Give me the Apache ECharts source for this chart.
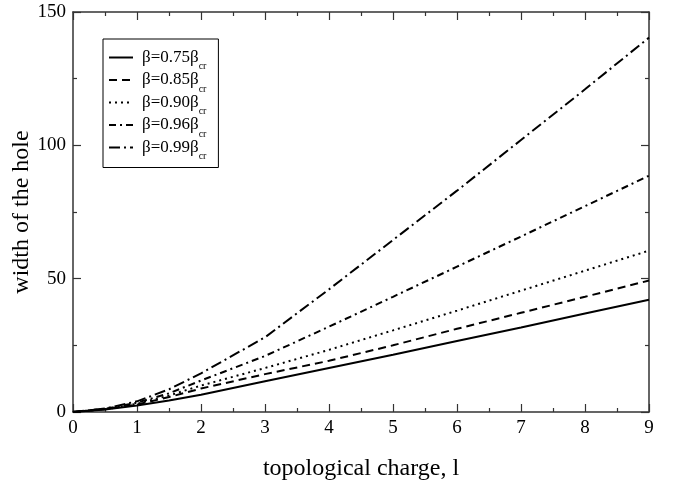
<!DOCTYPE html>
<html>
<head>
<meta charset="utf-8">
<script src="https://cdn.jsdelivr.net/npm/echarts@6/dist/echarts.min.js"></script>
<style>
html,body{margin:0;padding:0;background:#fff;}
#chart{width:678px;height:485px;}
</style>
</head>
<body>
<div id="chart"></div>
<script>
const xValues = [0, 0.5, 1, 1.5, 2, 3, 4, 5, 6, 7, 8, 9];
const seriesNames = ['β=0.75β', 'β=0.85β', 'β=0.90β', 'β=0.96β', 'β=0.99β'];
const w075 = [0, 0.9, 2.4, 4.3, 6.5, 11.5, 16.5, 21.5, 26.6, 31.7, 36.9, 42.1];
const w085 = [0, 1.0, 2.8, 5.6, 8.8, 14.2, 19.2, 25.0, 31.2, 37.2, 43.2, 49.3];
const w090 = [0, 1.1, 3.1, 6.2, 9.9, 16.5, 23.3, 30.6, 38.0, 45.5, 53.0, 60.5];
const w096 = [0, 1.2, 3.5, 7.0, 11.8, 21.0, 32.0, 43.2, 54.5, 65.8, 77.2, 88.6];
const w099 = [0, 1.3, 4.0, 8.5, 14.5, 28.0, 46.0, 64.5, 83.0, 102.0, 121.0, 140.4];
const xTicks = [0, 1, 2, 3, 4, 5, 6, 7, 8, 9];
const yTicks = [0, 50, 100, 150];

const allValues = [w075, w085, w090, w096, w099];
const dashTypes = ['solid', [8, 5], [2, 4], [7, 4, 2, 4], [11, 4, 2, 4]];

const chart = echarts.init(document.getElementById('chart'), null, {renderer: 'canvas'});
const font = 'Liberation Serif';
const axisColor = '#333';

function baseX(pos, showLabel) {
  return {
    type: 'value', position: pos, min: 0, max: 9, interval: 1,
    axisLine: {show: true, onZero: false, lineStyle: {color: axisColor, width: 1.5}},
    axisTick: {show: true, inside: true, length: 8, lineStyle: {color: axisColor, width: 1.2}},
    minorTick: {show: true, splitNumber: 2, length: 4, lineStyle: {color: axisColor, width: 1.2}},
    splitLine: {show: false},
    axisLabel: {show: showLabel, fontFamily: font, fontSize: 19, color: '#000', margin: 7,
      formatter: v => xTicks.includes(v) ? String(v) : ''}
  };
}
function baseY(pos, showLabel) {
  return {
    type: 'value', position: pos, min: 0, max: 150, interval: 50,
    axisLine: {show: true, onZero: false, lineStyle: {color: axisColor, width: 1.5}},
    axisTick: {show: true, inside: true, length: 8, lineStyle: {color: axisColor, width: 1.2}},
    minorTick: {show: true, splitNumber: 2, length: 4, lineStyle: {color: axisColor, width: 1.2}},
    splitLine: {show: false},
    axisLabel: {show: showLabel, fontFamily: font, fontSize: 19, color: '#000', margin: 7,
      formatter: v => yTicks.includes(v) ? String(v) : ''}
  };
}

const xMain = Object.assign(baseX('bottom', true), {
  name: 'topological charge, l', nameLocation: 'middle', nameGap: 45, nameMoveOverlap: false,
  nameTextStyle: {fontFamily: font, fontSize: 24, color: '#000'}
});
const yMain = Object.assign(baseY('left', true), {
  name: 'width of the hole', nameLocation: 'middle', nameGap: 39, nameMoveOverlap: false,
  nameTextStyle: {fontFamily: font, fontSize: 24, color: '#000'}
});

const option = {
  backgroundColor: '#fff',
  animation: false,
  grid: {left: 73, right: 29, top: 12, bottom: 73, containLabel: false, outerBoundsMode: 'none'},
  xAxis: [xMain, baseX('top', false)],
  yAxis: [yMain, baseY('right', false)],
  legend: {
    orient: 'vertical', left: 103, top: 39,
    itemWidth: 24, itemHeight: 14, itemGap: 0,
    padding: [10, 12, 6, 5],
    borderColor: '#000', borderWidth: 1, backgroundColor: '#fff',
    itemStyle: {color: 'rgba(0,0,0,0)', borderColor: 'rgba(0,0,0,0)', borderWidth: 0, opacity: 0},
    data: seriesNames,
    formatter: n => '{a|' + n + '}{s|cr}',
    textStyle: {
      fontFamily: font, color: '#000',
      rich: {
        a: {fontFamily: font, fontSize: 17, lineHeight: 20, verticalAlign: 'middle', color: '#000', padding: [0, 0, 0, 4]},
        s: {fontFamily: font, fontSize: 10, lineHeight: 10, verticalAlign: 'bottom', color: '#000', padding: [0, 0, -4, 0]}
      }
    }
  },
  series: seriesNames.map((n, i) => ({
    name: n, type: 'line', symbol: 'none', smooth: false,
    xAxisIndex: 0, yAxisIndex: 0,
    lineStyle: {color: '#000', width: 2, type: dashTypes[i]},
    itemStyle: {color: '#000'},
    data: xValues.map((x, j) => [x, allValues[i][j]])
  }))
};
chart.setOption(option);
</script>
</body>
</html>
